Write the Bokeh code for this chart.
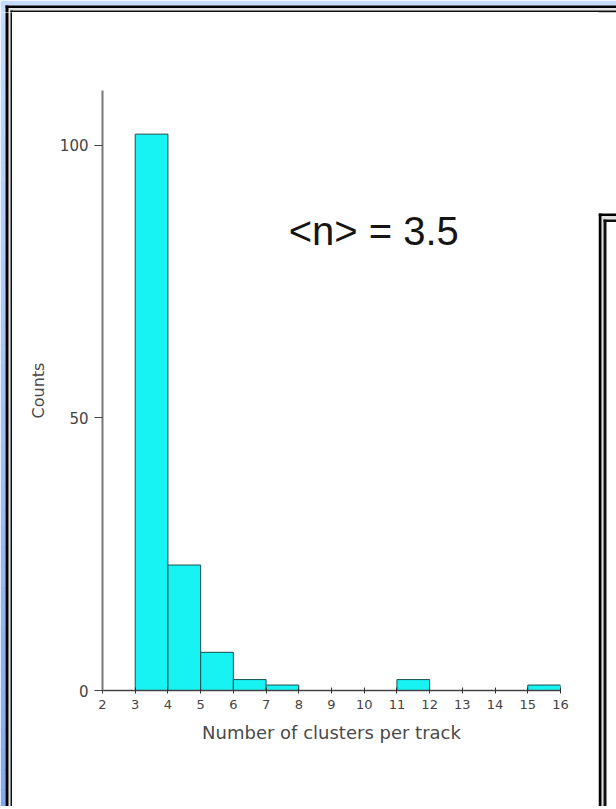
from bokeh.plotting import figure
from bokeh.layouts import column, row
from bokeh.models import Range1d, Label, FixedTicker, ColumnDataSource
from bokeh.embed import file_html
from bokeh.resources import INLINE

# ---- data ----
bin_left = [3, 4, 5, 6, 7, 8, 9, 10, 11, 12, 13, 14, 15]
bin_width = 1
counts = [102, 23, 7, 2, 1, 0, 0, 0, 2, 0, 0, 0, 1]
x_ticks = list(range(2, 17))
y_ticks = [0, 50, 100]
mean_text = "<n> = 3.5"
mean_pos = (7.69, 84.2)
x_label = "Number of clusters per track"
y_label = "Counts"

# ---- page geometry (canvas pixels, y down) ----
W, H = 616, 809
PX0, PX1, PY0, PY1 = 12, 598, 12, 806      # area of the chart figure
FL, FR, FT, FB = 102, 560, 90, 690          # plot frame inside the page

# ---------------- chart ----------------
p = figure(width=PX1 - PX0, height=PY1 - PY0, output_backend="svg", toolbar_location=None,
           x_range=Range1d(2, 16), y_range=Range1d(0, 110),
           min_border_left=FL - PX0, min_border_right=PX1 - FR,
           min_border_top=FT - PY0, min_border_bottom=PY1 - FB,
           frame_align=False)
p.background_fill_color = "white"
p.border_fill_color = "white"
p.outline_line_color = None
p.xgrid.visible = False
p.ygrid.visible = False

sel = [i for i, c in enumerate(counts) if c > 0]
src = ColumnDataSource(dict(
    left=[bin_left[i] for i in sel],
    right=[bin_left[i] + bin_width for i in sel],
    top=[counts[i] for i in sel],
))
p.quad(left="left", right="right", bottom=0, top="top", source=src,
       fill_color="#17f2f2", line_color="#1a4f4f", line_width=1)

xa = p.xaxis[0]
xa.ticker = FixedTicker(ticks=x_ticks)
xa.axis_label = x_label
xa.axis_line_color = "#444444"
xa.axis_line_width = 1.5
xa.major_tick_line_color = "#333333"
xa.major_tick_in = 3
xa.major_tick_out = 3
xa.minor_tick_line_color = None
xa.major_label_text_font = "DejaVu Sans"
xa.major_label_text_font_size = "13px"
xa.major_label_text_color = "#444444"
xa.major_label_standoff = 6
xa.axis_label_text_font = "DejaVu Sans"
xa.axis_label_text_font_size = "18px"
xa.axis_label_text_font_style = "normal"
xa.axis_label_text_color = "#4a4a4a"
xa.axis_label_standoff = 10

ya = p.yaxis[0]
ya.ticker = FixedTicker(ticks=y_ticks)
ya.axis_label = y_label
ya.axis_line_color = "#777777"
ya.axis_line_width = 2
ya.major_tick_line_color = "#444444"
ya.major_tick_in = 0
ya.major_tick_out = 8
ya.minor_tick_line_color = None
ya.major_label_text_font = "DejaVu Sans"
ya.major_label_text_font_size = "15px"
ya.major_label_text_color = "#444444"
ya.major_label_standoff = 6
ya.axis_label_text_font = "DejaVu Sans"
ya.axis_label_text_font_size = "16px"
ya.axis_label_text_font_style = "normal"
ya.axis_label_text_color = "#4a4a4a"
ya.axis_label_standoff = 9

p.add_layout(Label(x=mean_pos[0], y=mean_pos[1], text=mean_text,
                   text_font="Liberation Sans", text_font_size="40px",
                   text_color="#151515", text_baseline="alphabetic"))


# ---------------- slide-frame decoration ----------------
def mix(c1, c2, t):
    return "#%02x%02x%02x" % tuple(int(round(a + (b - a) * t)) for a, b in zip(c1, c2))


rects = []  # (left, top, right, bottom, color) in page pixels
top_c, bot_c = (0xc6, 0xdb, 0xfc), (0x7e, 0xaa, 0xee)
n = 40
for i in range(n):
    rects.append((0, H * i / n, 5, H * (i + 1) / n + 0.6, mix(top_c, bot_c, (i + 0.5) / n)))
rects += [
    (0, 0, W, 5, mix(top_c, bot_c, 0.01)),
    (8, 7.5, 10, H, "#e2e2e2"), (8, 7.5, W, 10, "#e2e2e2"),
    (5, 5, 8, H, "#000000"), (5, 5, W, 7.5, "#000000"),
    (10, 10, 12, H, "#111111"), (10, 10, W, 12, "#111111"),
    (10, 806.5, 599, H, "#111111"),
    (601, 215.5, 603, H, "#e2e2e2"), (601, 215.5, W, 219, "#e2e2e2"),
    (598, 213, 601, H, "#000000"), (598, 213, W, 215.5, "#000000"),
    (603, 219, 606, H, "#111111"), (603, 219, W, 221.5, "#111111"),
]
deco = ColumnDataSource(dict(
    left=[r[0] for r in rects], top=[r[1] for r in rects],
    right=[r[2] for r in rects], bottom=[r[3] for r in rects],
    color=[r[4] for r in rects]))


def deco_fig(x0, y0, x1, y1):
    f = figure(width=x1 - x0, height=y1 - y0, output_backend="svg", toolbar_location=None,
               x_range=Range1d(x0, x1), y_range=Range1d(y1, y0), min_border=0,
               x_axis_location=None, y_axis_location=None, frame_align=False)
    f.outline_line_color = None
    f.background_fill_color = "white"
    f.border_fill_color = "white"
    f.xgrid.visible = False
    f.ygrid.visible = False
    f.quad(left="left", right="right", top="top", bottom="bottom", source=deco,
           fill_color="color", line_color=None)
    return f


top_f = deco_fig(0, 0, W, PY0)
left_f = deco_fig(0, PY0, PX0, PY1)
right_f = deco_fig(PX1, PY0, W, PY1)
bot_f = deco_fig(0, PY1, W, H)

page = column(top_f, row(left_f, p, right_f), bot_f)

open("out.html", "w").write(file_html(page, INLINE))
